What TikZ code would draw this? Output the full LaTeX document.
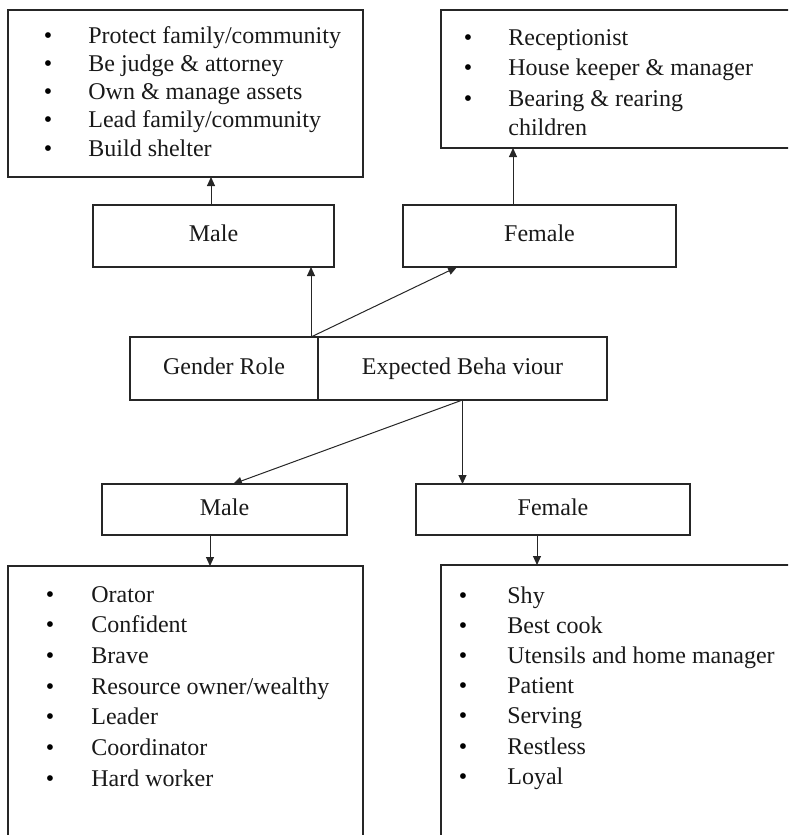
\documentclass[tikz,border=0pt]{standalone}
\usepackage{fontspec}
\setmainfont{Liberation Serif}
\usetikzlibrary{arrows.meta,positioning}
\tikzset{
 gr box/.style={draw=black!85,line width=1pt,rectangle,inner sep=0pt,outer sep=0pt},
 gr label/.style={font=\fontsize{12}{14}\selectfont,text=black!90,text height=8pt,text depth=2.5pt},
 gr item/.style={anchor=base west,inner sep=0pt,font=\fontsize{12}{14}\selectfont,text=black!90},
 gr dot/.style={anchor=base,inner sep=0pt,font=\fontsize{12}{14}\selectfont},
 gr arrow/.style={line width=.5pt,draw=black!85,-{Triangle[length=4.5pt,width=4pt]}}
}

\begin{document}
\begin{tikzpicture}[x=.5pt,y=-.5pt]
 \useasboundingbox (0,0) rectangle (788,835);
 \clip (0,0) rectangle (788,835);
 \node[gr box,minimum width=177.5pt,minimum height=83.5pt] (tlbox) at (185.5,93.5) {};
 \node[gr box,minimum width=179.5pt,minimum height=69pt] (trbox) at (620.5,79) {};
 \node[gr box,gr label,minimum width=120.5pt,minimum height=31pt] (maleT) at (213.5,236) {Male};
 \node[gr box,gr label,minimum width=136.5pt,minimum height=31pt] (femT) at (539.5,236) {Female};
 \node[gr box,gr label,minimum width=94pt,minimum height=31.5pt] (gender) at (224,368.5) {Gender Role};
 \node[gr box,gr label,minimum width=144.5pt,minimum height=31.5pt,right=0pt of gender] (expected) {Expected Beha viour};
 \node[gr box,gr label,minimum width=122.5pt,minimum height=25.5pt] (maleB) at (224.5,509.5) {Male};
 \node[gr box,gr label,minimum width=137pt,minimum height=25.5pt] (femB) at (553,509.5) {Female};
 \node[gr box,minimum width=177.5pt,minimum height=142pt] (blbox) at (185.5,708) {};
 \node[gr box,minimum width=179.5pt,minimum height=142.5pt] (brbox) at (620.5,707.5) {};

 \foreach \t [count=\k] in {Protect family/community,Be judge \& attorney,
   Own \& manage assets,Lead family/community,Build shelter}{
   \node[gr dot] (tld\k) at (48,{43+28.25*(\k-1)}) {\textbullet};
   \node[gr item] (tl\k) at (88,{43+28.25*(\k-1)}) {\t};
 }
 \foreach \t [count=\k] in {Receptionist,House keeper \& manager,Bearing \& rearing}{
   \node[gr dot] (trd\k) at (468,{45+30.5*(\k-1)}) {\textbullet};
   \node[gr item] (tr\k) at (508,{45+30.5*(\k-1)}) {\t};
 }
 \node[gr item] (tr4) at (508,135) {children};
 \foreach \t [count=\k] in {Orator,Confident,Brave,Resource owner/wealthy,
   Leader,Coordinator,Hard worker}{
   \node[gr dot] (bld\k) at (50,{602+30.7*(\k-1)}) {\textbullet};
   \node[gr item] (bl\k) at (91,{602+30.7*(\k-1)}) {\t};
 }
 \foreach \t [count=\k] in {Shy,Best cook,Utensils and home manager,Patient,
   Serving,Restless,Loyal}{
   \node[gr dot] (brd\k) at (463,{603+30.2*(\k-1)}) {\textbullet};
   \node[gr item] (br\k) at (507,{603+30.2*(\k-1)}) {\t};
 }

 \coordinate (gsrc) at ([xshift=-3.5pt]gender.north east);
 \coordinate (fup) at ([xshift=-13.25pt]femT.north);
 \coordinate (mdown) at ([xshift=-7.25pt]maleB.south);
 \coordinate (fdown) at ([xshift=-8pt]femB.south);
 \draw[gr arrow] ([xshift=-1.25pt]maleT.north) -- ([xshift=-1.25pt]maleT.north |- tlbox.south);
 \draw[gr arrow] (fup) -- (fup |- trbox.south);
 \draw[gr arrow] (gsrc) -- (gsrc |- maleT.south);
 \draw[gr arrow] (gsrc) -- ([xshift=27pt]femT.south west);
 \draw[gr arrow] (expected.south) -- (expected.south |- femB.north);
 \draw[gr arrow] (expected.south) -- ([xshift=4.25pt]maleB.north);
 \draw[gr arrow] (mdown) -- (mdown |- blbox.north);
 \draw[gr arrow] (fdown) -- (fdown |- brbox.north);
\end{tikzpicture}
\end{document}
